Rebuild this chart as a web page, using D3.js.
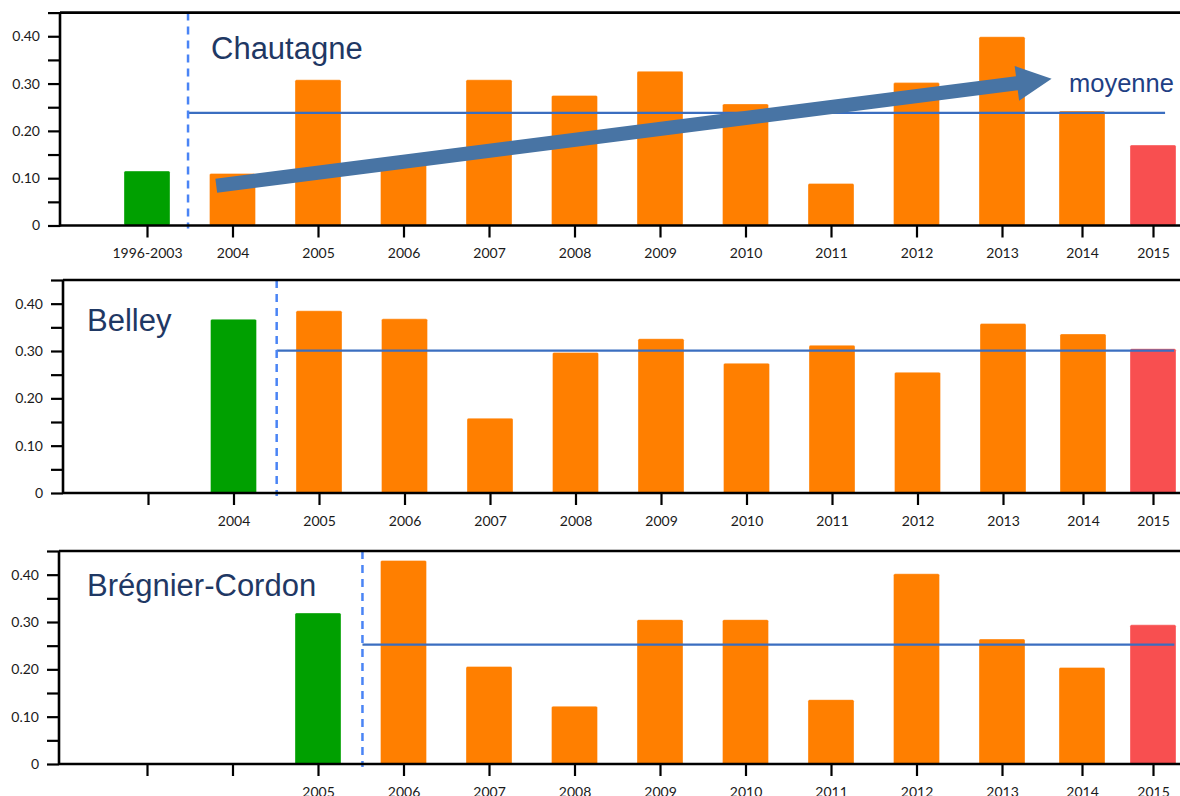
<!DOCTYPE html>
<html>
<head>
<meta charset="utf-8">
<script src="https://cdn.jsdelivr.net/npm/d3@7"></script>
<style>
  html, body { margin: 0; padding: 0; background: #fff; overflow: hidden; }
  svg { display: block; }
</style>
</head>
<body>
<svg id="chart" width="1180" height="796"></svg>
<script>
// ---------------- data ----------------
const slotIndex = d3.range(13);
const labelsChautagne = ["1996-2003","2004","2005","2006","2007","2008","2009","2010","2011","2012","2013","2014","2015"];
const labelsBelley    = ["","2004","2005","2006","2007","2008","2009","2010","2011","2012","2013","2014","2015"];
const labelsBregnier  = ["","","2005","2006","2007","2008","2009","2010","2011","2012","2013","2014","2015"];

const valuesChautagne = [0.115, 0.110, 0.308, 0.129, 0.308, 0.275, 0.326, 0.257, 0.089, 0.302, 0.399, 0.242, 0.170];
const valuesBelley    = [null, 0.367, 0.385, 0.368, 0.158, 0.297, 0.326, 0.274, 0.312, 0.255, 0.358, 0.336, 0.305];
const valuesBregnier  = [null, null, 0.319, 0.430, 0.206, 0.122, 0.305, 0.305, 0.136, 0.402, 0.264, 0.204, 0.294];

const meanChautagne = 0.238;
const meanBelley    = 0.301;
const meanBregnier  = 0.252;

const yTickValues = [0, 0.05, 0.10, 0.15, 0.20, 0.25, 0.30, 0.35, 0.40, 0.45];

const titles = ["Chautagne", "Belley", "Brégnier-Cordon"];
const trendLabel = "moyenne";
// trend arrow (slot index, value) start & tip
const trendStart = [0.81, 0.084];
const trendEnd   = [10.62, 0.310];

// ---------------- layout ----------------
const W = 1180;
const colors = { ref: "#00a000", year: "#ff7f00", last: "#f84f50",
                 mean: "#3a6ec0", dash: "#4a84f5", arrow: "#4874a4", title: "#1f3864" };

const panels = [
  { title: titles[0], values: valuesChautagne, labels: labelsChautagne, mean: meanChautagne,
    top: 12.6, base: 225.5, axisX: 60, xShift: 0, dashAt: 0.48, meanEnd: 12.17, titleX: 211, titleY: 59 },
  { title: titles[1], values: valuesBelley, labels: labelsBelley, mean: meanBelley,
    top: 280, base: 493, axisX: 63, xShift: 1, dashAt: 1.505, meanEnd: 12.3, titleX: 87, titleY: 331 },
  { title: titles[2], values: valuesBregnier, labels: labelsBregnier, mean: meanBregnier,
    top: 551, base: 764, axisX: 59, xShift: 0, dashAt: 2.52, meanEnd: 12.3, titleX: 87, titleY: 596 }
];

const svg = d3.select("#chart");
const barW = 46;

panels.forEach((p, pi) => {
  const g = svg.append("g");
  const x = d3.scaleLinear().domain([0, 10, 11, 12]).range([147 + p.xShift, 1002 + p.xShift, 1082 + p.xShift, 1153]);
  const y = d3.scaleLinear().domain([0, 0.45]).range([p.base, p.top]);

  // bars
  const firstIdx = p.values.findIndex(v => v != null);
  const lastIdx = p.values.length - 1;
  const barData = p.values.map((v, i) => ({ i, v })).filter(d => d.v != null);
  g.selectAll("rect.bar").data(barData).enter().append("rect")
    .attr("class", "bar")
    .attr("x", d => x(d.i) - barW / 2)
    .attr("width", barW)
    .attr("y", d => y(d.v))
    .attr("height", d => y(0) - y(d.v))
    .attr("rx", 1.5)
    .attr("fill", d => d.i === firstIdx ? colors.ref : (d.i === lastIdx ? colors.last : colors.year))
    .attr("stroke", "rgba(255,255,255,0.35)")
    .attr("stroke-width", 1);

  // mean line
  g.append("line")
    .attr("x1", x(p.dashAt)).attr("x2", x(p.meanEnd))
    .attr("y1", y(p.mean)).attr("y2", y(p.mean))
    .attr("stroke", colors.mean).attr("stroke-width", 2.2);

  // dashed separator
  g.append("line")
    .attr("x1", x(p.dashAt)).attr("x2", x(p.dashAt))
    .attr("y1", y(0.45)).attr("y2", y(0) + 3)
    .attr("stroke", colors.dash).attr("stroke-width", 2.5)
    .attr("stroke-dasharray", "8,6");

  // y axis
  const yAxis = d3.axisLeft(y)
    .tickValues(yTickValues)
    .tickSize(12)
    .tickPadding(8)
    .tickFormat(d => {
      const k = Math.round(d * 100);
      if (k % 10 !== 0) return "";
      return k === 0 ? "0" : d3.format(".2f")(d);
    });
  const ya = g.append("g").attr("transform", `translate(${p.axisX},0)`).call(yAxis);
  ya.select(".domain").remove();
  ya.selectAll(".tick line").attr("stroke", "#000").attr("stroke-width", 2.2);
  ya.selectAll("text").attr("font-family", "Lato, 'Open Sans', sans-serif")
    .attr("font-size", 14).attr("fill", "#1a1a1a");

  // x axis
  const xAxis = d3.axisBottom(x)
    .tickValues(slotIndex)
    .tickSize(12)
    .tickPadding(11)
    .tickFormat(i => p.labels[i]);
  const xa = g.append("g").attr("transform", `translate(0,${p.base})`).call(xAxis);
  xa.select(".domain").remove();
  xa.selectAll(".tick line").attr("stroke", "#000").attr("stroke-width", 2.2);
  xa.selectAll("text").attr("font-family", "Lato, 'Open Sans', sans-serif")
    .attr("font-size", 14).attr("fill", "#1a1a1a");

  // frame lines: y-axis, baseline, top border
  g.append("line").attr("x1", p.axisX).attr("x2", p.axisX)
    .attr("y1", y(0.45)).attr("y2", y(0) + 1)
    .attr("stroke", "#000").attr("stroke-width", 2.6);
  g.append("line").attr("x1", p.axisX).attr("x2", W)
    .attr("y1", y(0)).attr("y2", y(0))
    .attr("stroke", "#000").attr("stroke-width", 2.6);
  g.append("line").attr("x1", p.axisX).attr("x2", W)
    .attr("y1", y(0.45)).attr("y2", y(0.45))
    .attr("stroke", "#000").attr("stroke-width", 2.6);

  // title
  g.append("text")
    .attr("x", p.titleX).attr("y", p.titleY)
    .attr("font-family", "'Liberation Sans', Arial, sans-serif")
    .attr("font-size", 31)
    .attr("fill", colors.title)
    .text(p.title);

  // trend arrow on first panel
  if (pi === 0) {
    const sx = x(trendStart[0]), sy = y(trendStart[1]);
    const tx = x(trendEnd[0]), ty = y(trendEnd[1]);
    const dx = tx - sx, dy = ty - sy;
    const L = Math.hypot(dx, dy);
    const ux = dx / L, uy = dy / L;
    const nx = -uy, ny = ux;
    const headLen = 35, headHalf = 17.5, shaftHalf = 7;
    const bx = tx - ux * headLen, by = ty - uy * headLen;
    const pts = [
      [sx + nx * shaftHalf, sy + ny * shaftHalf],
      [bx + nx * shaftHalf, by + ny * shaftHalf],
      [bx + nx * headHalf, by + ny * headHalf],
      [tx, ty],
      [bx - nx * headHalf, by - ny * headHalf],
      [bx - nx * shaftHalf, by - ny * shaftHalf],
      [sx - nx * shaftHalf, sy - ny * shaftHalf]
    ];
    g.append("path")
      .attr("d", d3.line()(pts) + "Z")
      .attr("fill", colors.arrow);

    g.append("text")
      .attr("x", 1069).attr("y", y(trendEnd[1]) + 13)
      .attr("font-family", "'Liberation Sans', Arial, sans-serif")
      .attr("font-size", 25.5)
      .attr("fill", "#1f3f84")
      .text(trendLabel);
  }
});
</script>
</body>
</html>
